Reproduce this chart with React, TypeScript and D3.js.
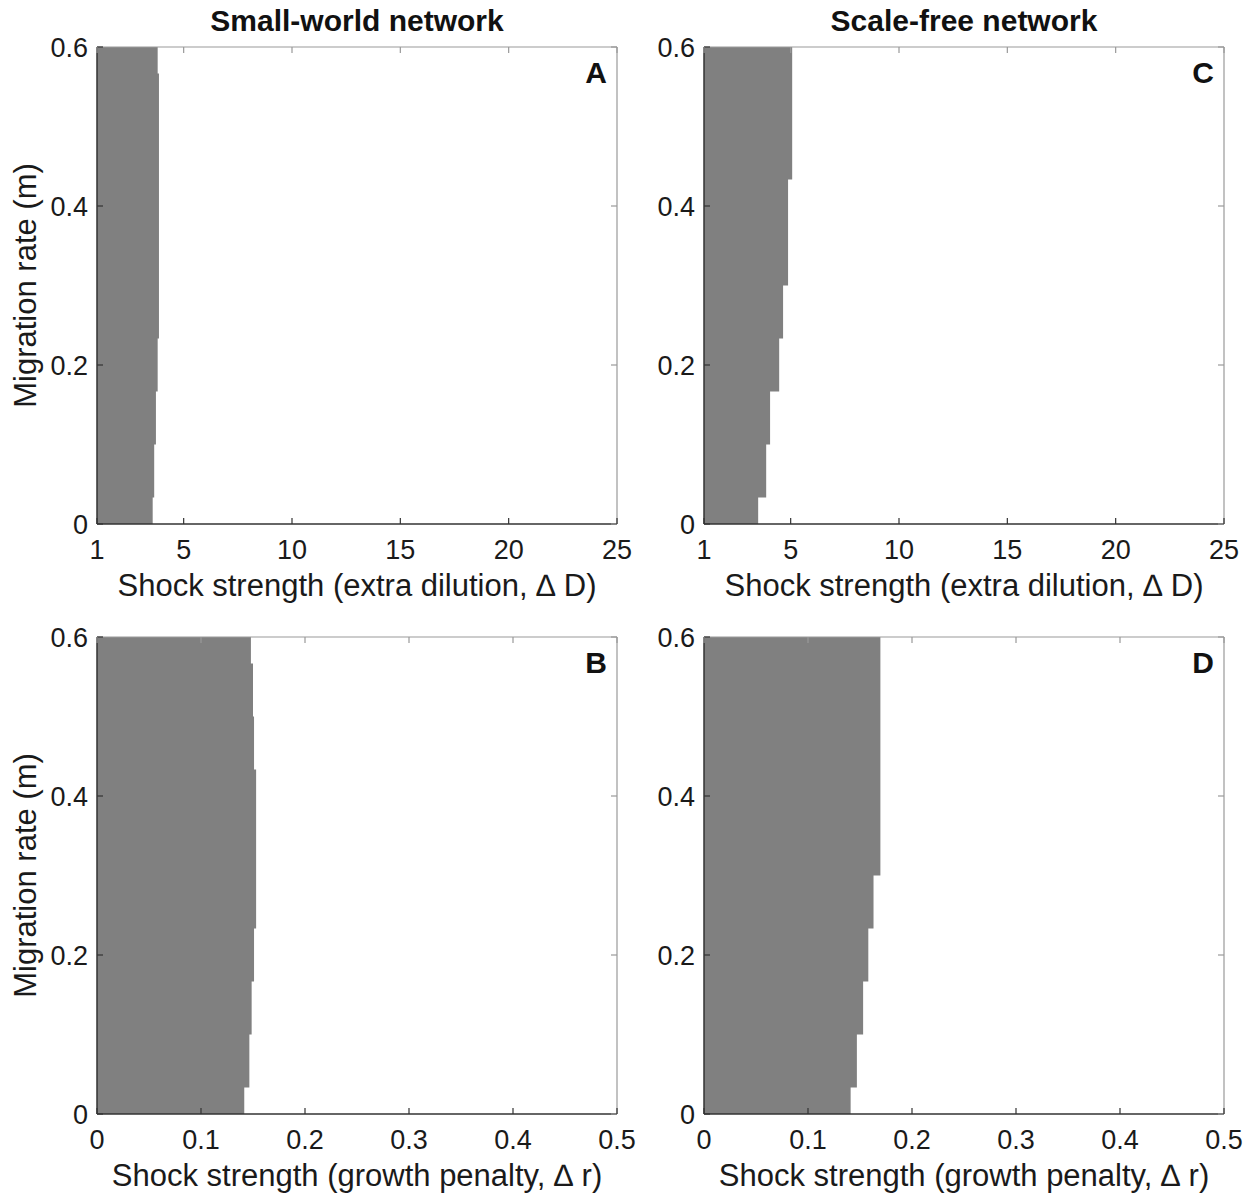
import React from "react";
import * as d3 from "d3";

// migration rate grid (cell centres), 0 .. 0.6
const mRates = [0, 0.0667, 0.1333, 0.2, 0.2667, 0.3333, 0.4, 0.4667, 0.5333, 0.6];

// threshold shock strength for each migration rate (below = shaded region)
const smallWorldDilution = [3.57, 3.64, 3.72, 3.8, 3.86, 3.86, 3.86, 3.86, 3.86, 3.8];
const smallWorldGrowth = [0.1416, 0.1465, 0.1487, 0.151, 0.153, 0.153, 0.153, 0.151, 0.15, 0.148];
const scaleFreeDilution = [3.5, 3.87, 4.05, 4.47, 4.65, 4.88, 4.88, 5.07, 5.07, 5.07];
const scaleFreeGrowth = [0.141, 0.147, 0.153, 0.158, 0.163, 0.1696, 0.1696, 0.1696, 0.1696, 0.1696];

const yTicks = [0, 0.2, 0.4, 0.6];
const dilutionTicks = [1, 5, 10, 15, 20, 25];
const growthTicks = [0, 0.1, 0.2, 0.3, 0.4, 0.5];

const FONT = "'Liberation Sans', Arial, Helvetica, sans-serif";
const W = 1250;
const H = 1194;

type PanelProps = {
  left: number;
  top: number;
  letter: string;
  title?: string;
  values: number[];
  xDomain: [number, number];
  xTicks: number[];
  xLabel: string;
  yLabel?: boolean;
};

function Panel({ left, top, letter, title, values, xDomain, xTicks, xLabel, yLabel }: PanelProps) {
  const w = 520;
  const h = 477;
  const x = d3.scaleLinear().domain(xDomain).range([0, w]);
  const y = d3.scaleLinear().domain([0, 0.6]).range([h, 0]);

  // cell edges in m: midpoints between grid centres, clamped to axis
  const edges = mRates.map((m, i) => {
    const lo = i === 0 ? 0 : (mRates[i - 1] + m) / 2;
    const hi = i === mRates.length - 1 ? 0.6 : (m + mRates[i + 1]) / 2;
    return [lo, hi];
  });

  // step outline of the shaded region
  const pts: [number, number][] = [[xDomain[0], 0]];
  values.forEach((v, i) => {
    pts.push([v, edges[i][0]]);
    pts.push([v, edges[i][1]]);
  });
  pts.push([xDomain[0], 0.6]);
  const area = d3.line<[number, number]>().x((d) => x(d[0])).y((d) => y(d[1]))(pts) + "Z";

  const tl = 6;
  return (
    <g transform={`translate(${left},${top})`} fontFamily={FONT}>
      <path d={area} fill="#808080" />
      {/* box */}
      <line x1={0} x2={w} y1={0} y2={0} stroke="#999" strokeWidth={1.2} />
      <line x1={w} x2={w} y1={0} y2={h} stroke="#999" strokeWidth={1.2} />
      <line x1={0} x2={0} y1={0} y2={h} stroke="#333" strokeWidth={1.5} />
      <line x1={0} x2={w} y1={h} y2={h} stroke="#333" strokeWidth={1.5} />
      {/* y ticks */}
      {yTicks.map((t) => (
        <g key={"y" + t}>
          <line x1={0} x2={tl} y1={y(t)} y2={y(t)} stroke="#333" strokeWidth={1.2} />
          <line x1={w} x2={w - tl} y1={y(t)} y2={y(t)} stroke="#999" strokeWidth={1.2} />
          <text x={-9} y={y(t)} dy="0.36em" textAnchor="end" fontSize={27} fill="#1a1a1a">
            {String(t)}
          </text>
        </g>
      ))}
      {/* x ticks */}
      {xTicks.map((t) => (
        <g key={"x" + t}>
          <line x1={x(t)} x2={x(t)} y1={h} y2={h - tl} stroke="#333" strokeWidth={1.2} />
          <line x1={x(t)} x2={x(t)} y1={0} y2={tl} stroke="#999" strokeWidth={1.2} />
          <text x={x(t)} y={h + 35} textAnchor="middle" fontSize={27} fill="#1a1a1a">
            {String(t)}
          </text>
        </g>
      ))}
      <text x={w / 2} y={h + 72} textAnchor="middle" fontSize={31} fill="#1a1a1a">
        {xLabel}
      </text>
      {yLabel && (
        <text
          transform={`translate(${-61},${h / 2}) rotate(-90)`}
          textAnchor="middle"
          fontSize={31}
          fill="#1a1a1a"
        >
          Migration rate (m)
        </text>
      )}
      {title && (
        <text x={w / 2} y={-16} textAnchor="middle" fontSize={30} fontWeight="bold" fill="#111">
          {title}
        </text>
      )}
      <text x={w - 10} y={36} textAnchor="end" fontSize={30} fontWeight="bold" fill="#111">
        {letter}
      </text>
    </g>
  );
}

export default function App() {
  return (
    <svg
      width={W}
      height={H}
      style={{ position: "absolute", left: 0, top: 0, background: "#fff" }}
    >
      <rect width={W} height={H} fill="#fff" />
      <Panel
        left={97}
        top={47}
        letter="A"
        title="Small-world network"
        values={smallWorldDilution}
        xDomain={[1, 25]}
        xTicks={dilutionTicks}
        xLabel="Shock strength (extra dilution, ∆ D)"
        yLabel
      />
      <Panel
        left={97}
        top={637}
        letter="B"
        values={smallWorldGrowth}
        xDomain={[0, 0.5]}
        xTicks={growthTicks}
        xLabel="Shock strength (growth penalty, ∆ r)"
        yLabel
      />
      <Panel
        left={704}
        top={47}
        letter="C"
        title="Scale-free network"
        values={scaleFreeDilution}
        xDomain={[1, 25]}
        xTicks={dilutionTicks}
        xLabel="Shock strength (extra dilution, ∆ D)"
      />
      <Panel
        left={704}
        top={637}
        letter="D"
        values={scaleFreeGrowth}
        xDomain={[0, 0.5]}
        xTicks={growthTicks}
        xLabel="Shock strength (growth penalty, ∆ r)"
      />
    </svg>
  );
}
